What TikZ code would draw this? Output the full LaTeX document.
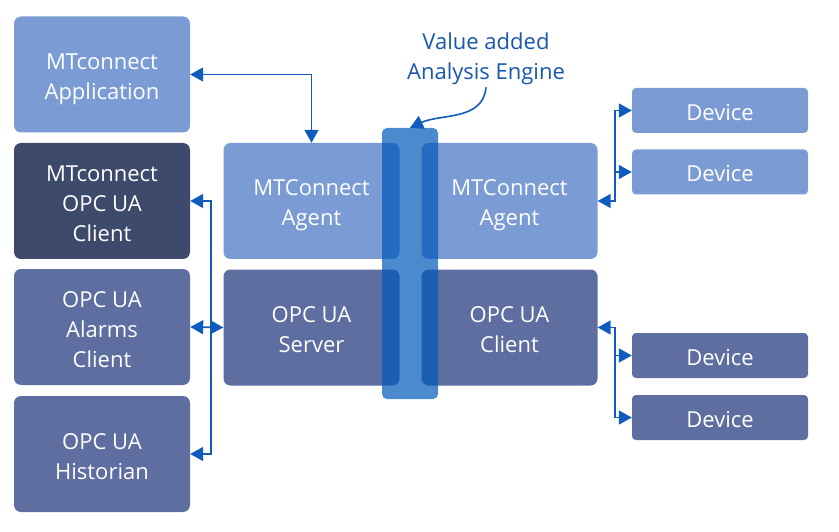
\documentclass[tikz,border=0pt]{standalone}
\usepackage{fontspec}
\setmainfont{Open Sans}
\usetikzlibrary{arrows.meta,positioning}
\definecolor{boxlight}{RGB}{123,155,212}
\definecolor{boxdark}{RGB}{62,74,108}
\definecolor{boxmid}{RGB}{94,110,160}
\definecolor{linkblue}{RGB}{16,92,190}
\definecolor{engineblue}{RGB}{0,88,185}
\definecolor{notetext}{RGB}{24,88,170}
\newcommand{\lnstrut}{\rule[-5pt]{0pt}{30pt}}

\begin{document}
\begin{tikzpicture}[x=1pt, y=-1pt,
    >={Triangle[length=13pt,width=14pt]},
    txt/.style={align=center, font=\fontsize{22}{30}\selectfont},
    block/.style={txt, rounded corners=7pt, text=white, inner sep=0pt,
        minimum width=176pt, minimum height=116pt},
    device/.style={block, rounded corners=4pt, minimum height=45pt},
    link/.style={draw=linkblue, line width=1.6pt}]
    \useasboundingbox (0,0) rectangle (839,532);

    % left column
    \node[block, fill=boxlight] (app)       at (102, 74.5) {\lnstrut MTconnect\\\lnstrut Application};
    \node[block, fill=boxdark]  (opcclient) at (102, 201)  {\lnstrut MTconnect\\OPC UA\\\lnstrut Client};
    \node[block, fill=boxmid]   (alarms)    at (102, 327)  {\lnstrut OPC UA\\Alarms\\\lnstrut Client};
    \node[block, fill=boxmid]   (historian) at (102, 454)  {\lnstrut OPC UA\\\lnstrut Historian};

    % middle
    \node[block, fill=boxlight] (agentl) at (311.5, 201)   {\lnstrut MTConnect\\\lnstrut Agent};
    \node[block, fill=boxlight] (agentr) at (509.5, 201)   {\lnstrut MTConnect\\\lnstrut Agent};
    \node[block, fill=boxmid]   (server) at (311.5, 327.5) {\lnstrut OPC UA\\\lnstrut Server};
    \node[block, fill=boxmid]   (client) at (509.5, 327.5) {\lnstrut OPC UA\\\lnstrut Client};
    \node[fill=engineblue, fill opacity=0.7, rounded corners=5pt, inner sep=0pt,
          minimum width=56pt, minimum height=271pt] (engine) at (410, 263.5) {};

    % devices
    \node[device, fill=boxlight] (dev1) at (720, 110.5) {\lnstrut Device};
    \node[device, fill=boxlight] (dev2) at (720, 172)   {\lnstrut Device};
    \node[device, fill=boxmid]   (dev3) at (720, 355.5) {\lnstrut Device};
    \node[device, fill=boxmid]   (dev4) at (720, 417.5) {\lnstrut Device};

    \node[txt, text=notetext, inner sep=2pt] (note) at (486, 55)
        {\lnstrut Value added\\\lnstrut Analysis Engine};

    \coordinate (busl)  at (211, 201);
    \coordinate (busr1) at (615, 110.5);
    \coordinate (busr2) at (615, 355.5);

    \draw[link, <->] (app.east) -| (agentl.north);
    \draw[link, <->] (opcclient.east) -| (busl) |- (historian.east);
    \draw[link, <->] (alarms.east) -- (server.west);
    \draw[link, <->] (agentr.east) -| (busr1) -- (dev1.west);
    \draw[link, ->] (busr1 |- dev2.west) -- (dev2.west);
    \draw[link, <->] (client.east) -| (busr2 |- dev4.west) -- (dev4.west);
    \draw[link, ->] (busr2) -- (dev3.west);
    \draw[link, ->] (note.south) to[out=-95, in=25] (engine.north);
\end{tikzpicture}
\end{document}
